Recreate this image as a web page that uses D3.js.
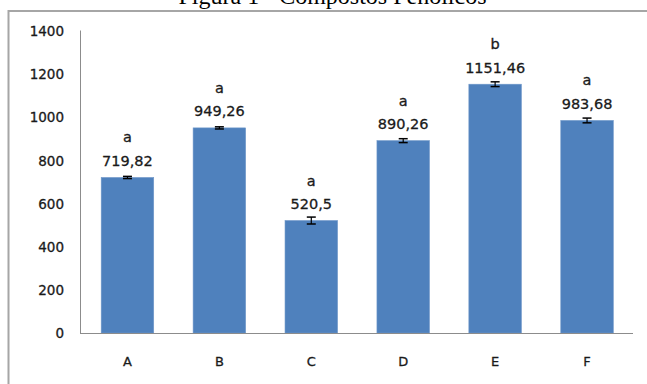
<!DOCTYPE html>
<html>
<head>
<meta charset="utf-8">
<script src="https://cdn.jsdelivr.net/npm/d3@7"></script>
<style>
  html, body { margin: 0; padding: 0; background: #fff; }
  svg { display: block; }
  .lbl { stroke: #1a1a1a; stroke-width: 0.3px; }
</style>
</head>
<body>
<svg id="chart" width="647" height="384"></svg>
<script>
// Phenolic compounds per treatment
const categories = ["A", "B", "C", "D", "E", "F"];
const values = [719.82, 949.26, 520.5, 890.26, 1151.46, 983.68];
const errors = [5, 5, 16, 9, 11, 11];
const letters = ["a", "a", "a", "a", "b", "a"];
const valueLabels = ["719,82", "949,26", "520,5", "890,26", "1151,46", "983,68"];
const yTicks = [0, 200, 400, 600, 800, 1000, 1200, 1400];
const title = "Figura 1 - Compostos Fenólicos";

const svg = d3.select("#chart");
const font = "DejaVu Sans, Verdana, sans-serif";

// Title, partly above the top edge
svg.append("text")
  .attr("x", 332.5).attr("y", 4)
  .attr("text-anchor", "middle")
  .attr("font-family", "Liberation Serif, Times New Roman, serif")
  .attr("font-size", 24)
  .attr("fill", "#000")
  .text(title);

// Chart frame
svg.append("path")
  .attr("d", "M8.5,400 V11 H660")
  .attr("fill", "none")
  .attr("stroke", "#a6a6a6")
  .attr("stroke-width", 2);

const x = d3.scaleBand()
  .domain(categories)
  .range([81.5, 633])
  .paddingInner(0.75 / 1.75)
  .paddingOuter(0.75 / 3.5);

const y = d3.scaleLinear().domain([0, 1400]).range([333, 30.5]);

// Y axis labels
const yAxis = d3.axisLeft(y).tickValues(yTicks).tickSize(0).tickPadding(0).tickFormat(d3.format("d"));
const gy = svg.append("g").attr("transform", "translate(64,0)").call(yAxis);
gy.select(".domain").remove();
gy.selectAll("text")
  .attr("class", "lbl")
  .attr("font-family", font).attr("font-size", 13.5).attr("fill", "#1a1a1a")
  .attr("dy", "0.36em");

// Axis lines
svg.append("line")
  .attr("x1", 80.5).attr("x2", 80.5).attr("y1", y(1400)).attr("y2", y(0))
  .attr("stroke", "#8c8c8c").attr("stroke-width", 1);

// Bars
svg.append("g").selectAll("rect")
  .data(categories)
  .join("rect")
  .attr("x", d => x(d))
  .attr("width", x.bandwidth())
  .attr("y", (d, i) => y(values[i]))
  .attr("height", (d, i) => y(0) - y(values[i]))
  .attr("fill", "#4f81bd")
  .attr("stroke", "#6f97c9")
  .attr("stroke-width", 0.6);

svg.append("line")
  .attr("x1", 80).attr("x2", 633).attr("y1", 333.5).attr("y2", 333.5)
  .attr("stroke", "#8c8c8c").attr("stroke-width", 1.2);

// Error bars
const eg = svg.append("g").attr("stroke", "#000");
categories.forEach((c, i) => {
  const cx = x(c) + x.bandwidth() / 2;
  const y1 = y(values[i] + errors[i]);
  const y2 = y(values[i] - errors[i]);
  eg.append("line").attr("x1", cx).attr("x2", cx).attr("y1", y1).attr("y2", y2).attr("stroke-width", 1.2);
  eg.append("line").attr("x1", cx - 4.5).attr("x2", cx + 4.5).attr("y1", y1).attr("y2", y1).attr("stroke-width", 1.5);
  eg.append("line").attr("x1", cx - 4.5).attr("x2", cx + 4.5).attr("y1", y2).attr("y2", y2).attr("stroke-width", 1.5);
});

// Data labels: value and significance letter
const lg = svg.append("g").attr("font-family", font).attr("font-size", 14.5)
  .attr("fill", "#1a1a1a").attr("text-anchor", "middle");
categories.forEach((c, i) => {
  const cx = x(c) + x.bandwidth() / 2;
  lg.append("text").attr("class", "lbl").attr("x", cx).attr("y", y(values[i]) - 11.5).text(valueLabels[i]);
  lg.append("text").attr("class", "lbl").attr("x", cx).attr("y", y(values[i]) - 35).text(letters[i]);
});

// Category labels
const xAxis = d3.axisBottom(x).tickSize(0).tickPadding(0);
const gx = svg.append("g").attr("transform", "translate(0,357)").call(xAxis);
gx.select(".domain").remove();
gx.selectAll("text")
  .attr("class", "lbl")
  .attr("font-family", font).attr("font-size", 13).attr("fill", "#1a1a1a")
  .attr("dy", "0.71em");
</script>
</body>
</html>
